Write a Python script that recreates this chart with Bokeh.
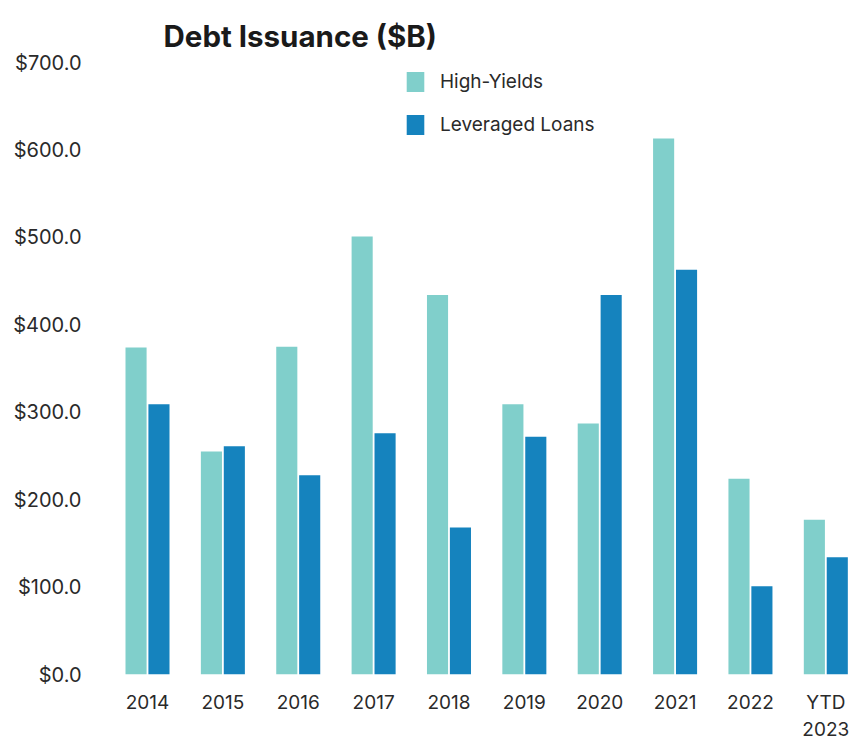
from bokeh.plotting import figure
from bokeh.models import (ColumnDataSource, FixedTicker, NumeralTickFormatter,
                          Legend, LegendItem, Range1d)
from bokeh.transform import dodge
from bokeh.embed import file_html
from bokeh.resources import INLINE

categories = ["2014", "2015", "2016", "2017", "2018", "2019", "2020", "2021", "2022", "YTD\n2023"]
high_yields = [374, 255, 375, 501, 434, 309, 287, 613, 224, 177]
leveraged_loans = [309, 261, 228, 276, 168, 272, 434, 463, 101, 134]
y_ticks = [0, 100, 200, 300, 400, 500, 600, 700]
title_text = "Debt Issuance ($B)"

FONT = "Inter"
TXT = "#2a2a2a"
HY_COLOR = "#80CFCB"
LL_COLOR = "#1583BE"

xs = list(range(len(categories)))
src = ColumnDataSource(dict(x=xs, hy=high_yields, ll=leveraged_loans))

p = figure(width=852, height=744, output_backend="svg", toolbar_location=None,
           x_range=Range1d(-0.491, 9.354), y_range=Range1d(0, 700),
           min_border_left=110, min_border_right=0, min_border_top=62,
           min_border_bottom=70, title=title_text)
p.outline_line_color = None
p.xgrid.grid_line_color = None
p.ygrid.grid_line_color = None

p.title.text_font = FONT
p.title.text_font_size = "29.5px"
p.title.text_font_style = "bold"
p.title.text_color = "#1a1a1a"
p.title.align = "left"
p.title.vertical_align = "top"
p.title.offset = 53
p.title.standoff = 14

r1 = p.vbar(x=dodge("x", -0.152, range=p.x_range), top="hy", width=0.28,
            source=src, fill_color=HY_COLOR, line_color=None)
r2 = p.vbar(x=dodge("x", 0.152, range=p.x_range), top="ll", width=0.28,
            source=src, fill_color=LL_COLOR, line_color=None)

# axes
p.yaxis.ticker = FixedTicker(ticks=y_ticks)
p.yaxis.formatter = NumeralTickFormatter(format="$0,0.0")
p.xaxis.ticker = FixedTicker(ticks=xs)
p.xaxis.major_label_overrides = {i: c for i, c in enumerate(categories)}
for ax in (p.xaxis[0], p.yaxis[0]):
    ax.axis_line_color = None
    ax.major_tick_line_color = None
    ax.minor_tick_line_color = None
    ax.major_tick_out = 0
    ax.major_tick_in = 0
    ax.major_label_text_font = FONT
    ax.major_label_text_color = TXT
p.xaxis.major_label_text_font_size = "19px"
p.yaxis.major_label_text_font_size = "20px"
p.yaxis.major_label_standoff = 29
p.xaxis.major_label_standoff = 16

legend = Legend(items=[LegendItem(label="High-Yields", renderers=[r1]),
                       LegendItem(label="Leveraged Loans", renderers=[r2])],
                location=(294, 537), orientation="vertical",
                glyph_width=22, glyph_height=25, spacing=18,
                label_standoff=14, padding=0, margin=0,
                border_line_color=None, background_fill_alpha=0,
                label_text_font=FONT, label_text_font_size="19px",
                label_text_color=TXT)
p.add_layout(legend, "center")

open("out.html", "w").write(file_html(p, INLINE))
